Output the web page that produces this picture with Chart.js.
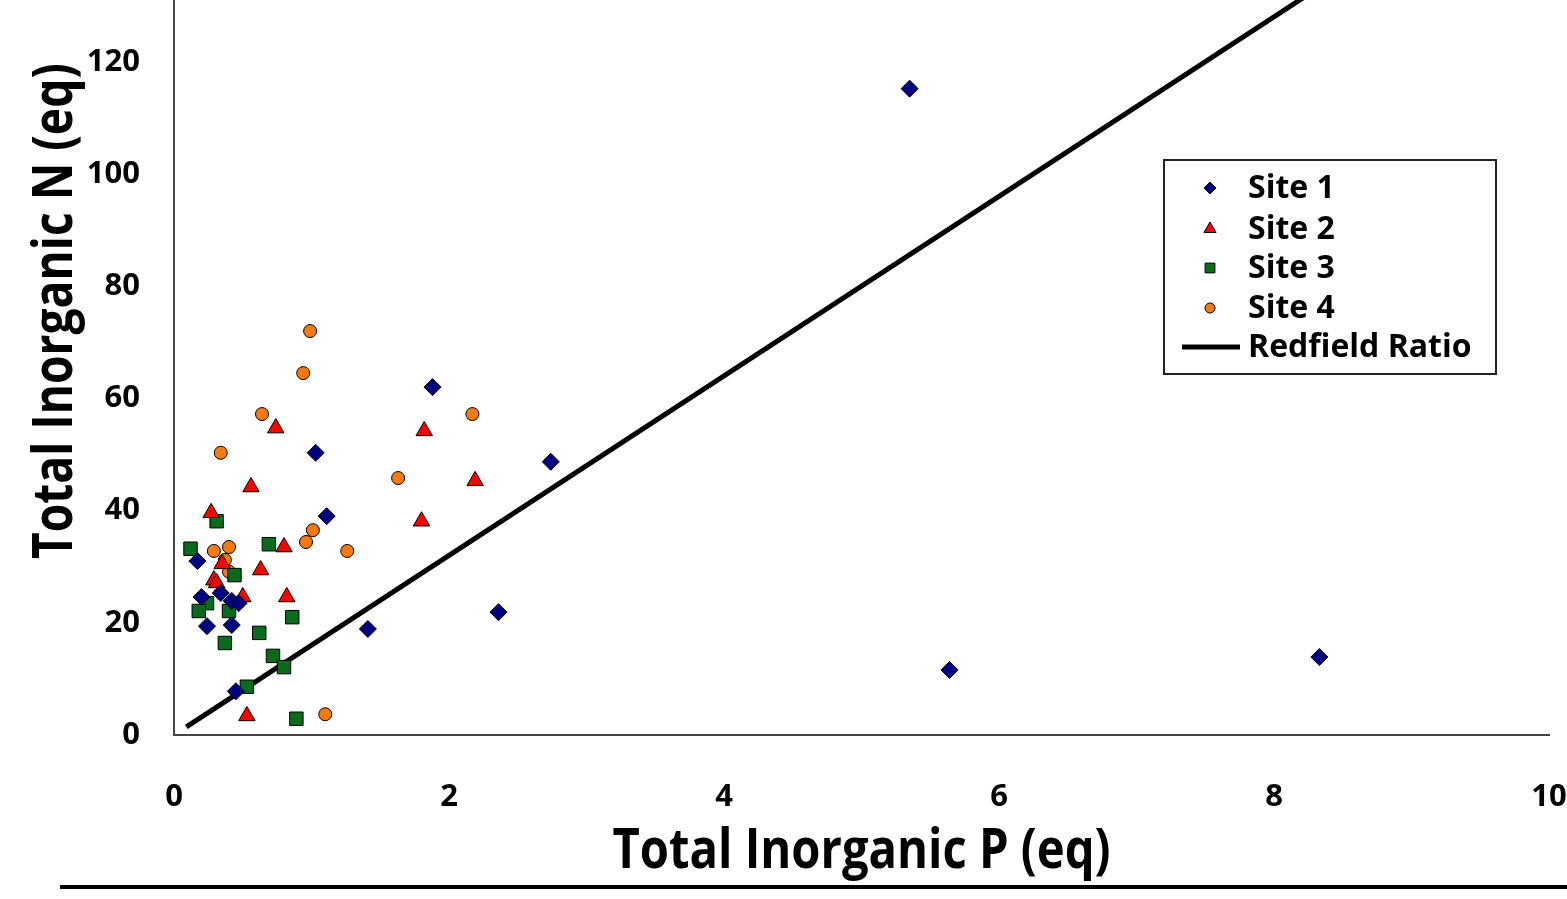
<!DOCTYPE html>
<html>
<head>
<meta charset="utf-8">
<script src="https://cdn.jsdelivr.net/npm/chart.js@4/dist/chart.umd.min.js"></script>
<style>
    body { margin: 0; background: #fff; }
    #wrap { width: 1567px; height: 899px; position: relative; }
</style>
</head>
<body>
<div id="wrap"><canvas id="chart-np"></canvas></div>
<script>
// Total inorganic P (x) and N (y) per sample, equivalents
const site1P = [0.17, 0.20, 0.24, 0.34, 0.42, 0.42, 0.47, 0.45, 1.03, 1.11, 1.41, 1.88, 2.36, 2.74, 5.35, 5.64, 8.33]
const site1N = [31.0, 24.6, 19.4, 25.3, 23.9, 19.6, 23.5, 7.8, 50.3, 39.0, 18.9, 62.0, 21.9, 48.7, 115.2, 11.6, 13.9]

const site2P = [0.27, 0.29, 0.31, 0.35, 0.50, 0.53, 0.56, 0.63, 0.74, 0.80, 0.82, 1.80, 1.82, 2.19]
const site2N = [39.6, 27.6, 27.1, 30.5, 24.6, 3.4, 44.2, 29.4, 54.7, 33.5, 24.6, 38.1, 54.2, 45.3]

const site3P = [0.31, 0.12, 0.69, 0.44, 0.24, 0.18, 0.40, 0.86, 0.62, 0.37, 0.72, 0.80, 0.53, 0.89]
const site3N = [38.1, 33.2, 34.0, 28.5, 23.5, 22.1, 22.1, 21.0, 18.2, 16.4, 14.1, 12.1, 8.6, 2.9]

const site4P = [0.99, 0.94, 0.64, 0.34, 2.17, 1.63, 1.01, 0.96, 1.26, 0.29, 0.40, 0.37, 0.40, 1.10]
const site4N = [72.0, 64.5, 57.2, 50.3, 57.2, 45.8, 36.5, 34.4, 32.8, 32.8, 33.5, 31.2, 29.1, 3.7]

// Redfield N:P = 16:1
const redfieldP = [0.09, 8.25]
const redfieldN = [1.44, 132]

const xTicks = [0, 2, 4, 6, 8, 10]
const yTicks = [0, 20, 40, 60, 80, 100, 120]

const toPoints = (xs, ys) => xs.map((x, i) => ({ x, y: ys[i] }))

const series = [
    { label: "Site 1", style: "rectRot", color: "#000080", radius: 8.5, legendR: 6, data: toPoints(site1P, site1N) },
    { label: "Site 2", style: "triangle", color: "#ff0000", radius: 9.5, legendR: 7, data: toPoints(site2P, site2N) },
    { label: "Site 3", style: "rect", color: "#0b6b1d", radius: 9.5, legendR: 7, data: toPoints(site3P, site3N) },
    { label: "Site 4", style: "circle", color: "#f77a0f", radius: 6.5, legendR: 5, data: toPoints(site4P, site4N) },
]

const TICK_FONT = { family: "'Open Sans', sans-serif", size: 31, weight: "bold" }
const TITLE_FONT = "bold 56px 'Open Sans', sans-serif"
const LEGEND_FONT = "bold 32px 'Open Sans', sans-serif"

function drawMarker(ctx, style, x, y, r, color) {
    ctx.save()
    ctx.fillStyle = color
    ctx.strokeStyle = "#000"
    ctx.lineWidth = 1
    ctx.beginPath()
    if (style === "rectRot") {
        ctx.moveTo(x, y - r); ctx.lineTo(x + r, y); ctx.lineTo(x, y + r); ctx.lineTo(x - r, y)
    } else if (style === "triangle") {
        ctx.moveTo(x, y - r); ctx.lineTo(x + r * 0.87, y + r * 0.5); ctx.lineTo(x - r * 0.87, y + r * 0.5)
    } else if (style === "rect") {
        ctx.rect(x - r * 0.7, y - r * 0.7, r * 1.4, r * 1.4)
    } else {
        ctx.arc(x, y, r, 0, Math.PI * 2)
    }
    ctx.closePath()
    ctx.fill()
    ctx.stroke()
    ctx.restore()
}

// narrow bold title text, squeezed to a set width
function drawTitle(ctx, text, width) {
    const w = ctx.measureText(text).width
    ctx.save()
    ctx.scale(width / w, 1)
    ctx.fillText(text, 0, 0)
    ctx.restore()
}

// axis titles, boxed legend and the rule under the figure
const decorations = {
    id: "decorations",
    afterDraw(chart) {
        const ctx = chart.ctx
        const area = chart.chartArea
        ctx.save()
        ctx.fillStyle = "#000"
        ctx.font = TITLE_FONT
        ctx.textAlign = "center"
        ctx.textBaseline = "alphabetic"

        ctx.save()
        ctx.translate((area.left + area.right) / 2, 868)
        drawTitle(ctx, "Total Inorganic P (eq)", 498)
        ctx.restore()

        ctx.save()
        ctx.translate(72, 311)
        ctx.rotate(-Math.PI / 2)
        drawTitle(ctx, "Total Inorganic N (eq)", 496)
        ctx.restore()

        // legend box
        ctx.fillStyle = "#fff"
        ctx.fillRect(1164, 160, 332, 214)
        ctx.strokeStyle = "#222"
        ctx.lineWidth = 2
        ctx.strokeRect(1164, 160, 332, 214)

        const rows = [188, 229, 268, 308, 347]
        ctx.font = LEGEND_FONT
        ctx.textAlign = "left"
        ctx.textBaseline = "middle"
        series.forEach((s, i) => {
            drawMarker(ctx, s.style, 1210, rows[i], s.legendR, s.color)
            ctx.fillStyle = "#000"
            ctx.fillText(s.label, 1248, rows[i] + 1)
        })
        ctx.strokeStyle = "#000"
        ctx.lineWidth = 5
        ctx.beginPath()
        ctx.moveTo(1182, rows[4])
        ctx.lineTo(1240, rows[4])
        ctx.stroke()
        ctx.fillText("Redfield Ratio", 1248, rows[4] + 1)

        // rule under the figure
        ctx.fillStyle = "#000"
        ctx.fillRect(60, 885, 1507, 4)
        ctx.restore()
    }
}

const datasets = series.map((s) => ({
    type: "scatter",
    label: s.label,
    data: s.data,
    pointStyle: s.style,
    pointRadius: s.radius,
    backgroundColor: s.color,
    borderColor: "#000",
    borderWidth: 1,
}))

datasets.push({
    type: "line",
    label: "Redfield Ratio",
    data: toPoints(redfieldP, redfieldN),
    borderColor: "#000",
    borderWidth: 5,
    pointRadius: 0,
    fill: false,
})

const ctx = document.getElementById("chart-np").getContext("2d")
const npChart = new Chart(ctx, {
    data: { datasets },
    plugins: [decorations],
    options: {
        responsive: true,
        maintainAspectRatio: false,
        animation: false,
        events: [],
        layout: { autoPadding: false, padding: { top: 0, right: 18, bottom: 0, left: 0 } },
        plugins: {
            legend: { display: false },
            tooltip: { enabled: false },
        },
        scales: {
            x: {
                type: "linear",
                min: 0,
                max: 10,
                grid: { display: false, drawTicks: false },
                border: { display: true, color: "#444", width: 2 },
                afterBuildTicks: (axis) => { axis.ticks = xTicks.map((v) => ({ value: v })) },
                afterFit: (axis) => {
                    axis.height = 164
                    axis.paddingLeft = 0
                    axis.paddingRight = 0
                },
                ticks: { color: "#000", font: TICK_FONT, padding: 44, maxRotation: 0 },
            },
            y: {
                type: "linear",
                min: 0,
                max: 131,
                grid: { display: false, drawTicks: false },
                border: { display: true, color: "#444", width: 2 },
                afterBuildTicks: (axis) => { axis.ticks = yTicks.map((v) => ({ value: v })) },
                afterFit: (axis) => {
                    axis.width = 174
                    axis.paddingTop = 0
                    axis.paddingBottom = 0
                },
                ticks: { color: "#000", font: TICK_FONT, padding: 34 },
            },
        },
    },
})
</script>
</body>
</html>
